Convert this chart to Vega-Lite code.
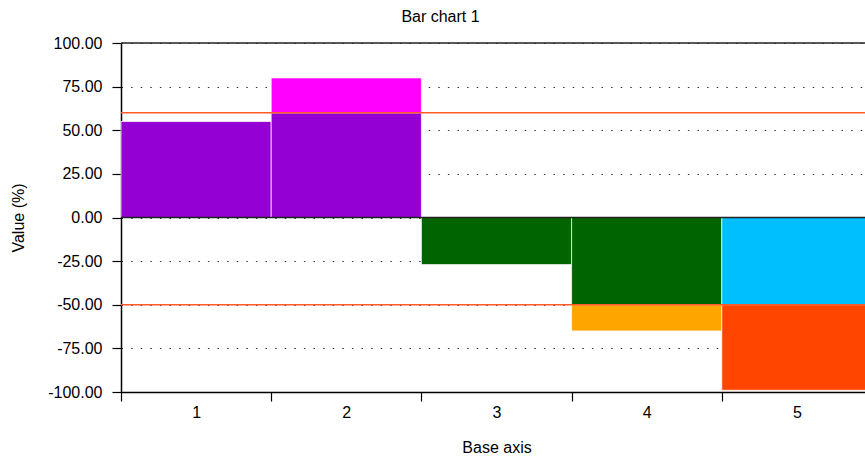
{
  "$schema": "https://vega.github.io/schema/vega-lite/v6.json",
  "autosize": {"type": "none"},
  "width": 751,
  "height": 349,
  "padding": {"left": 121, "top": 43, "right": 0, "bottom": 67},
  "background": "white",
  "config": {
    "view": {"stroke": null},
    "font": "Liberation Sans",
    "axis": {"labelFont": "Liberation Sans", "titleFont": "Liberation Sans", "labelColor": "black", "titleColor": "black", "labelFontSize": 16, "titleFontSize": 16, "titleFontWeight": "normal", "domainColor": "black", "tickColor": "black", "domainWidth": 1.5, "tickWidth": 1.2}
  },
  "title": {"text": "Bar chart 1", "font": "Liberation Sans", "fontSize": 16, "fontWeight": "normal", "color": "black", "anchor": "middle", "dx": -56, "offset": 10},
  "datasets": {
    "bars": [
      {"cat": "1", "seg": "1 base", "y0": 0, "y1": 55},
      {"cat": "2", "seg": "2 base", "y0": 0, "y1": 60},
      {"cat": "2", "seg": "2 over", "y0": 60, "y1": 80},
      {"cat": "3", "seg": "3 base", "y0": 0, "y1": -27},
      {"cat": "4", "seg": "4 base", "y0": 0, "y1": -50},
      {"cat": "4", "seg": "4 over", "y0": -50, "y1": -65},
      {"cat": "5", "seg": "5 base", "y0": 0, "y1": -50},
      {"cat": "5", "seg": "5 over", "y0": -50, "y1": -99}
    ],
    "thresholds": [{"v": 60}, {"v": -50}],
    "frame": [{"v": 0}, {"v": 100}]
  },
  "layer": [
    {
      "data": {"name": "bars"},
      "mark": {"type": "bar", "stroke": "white", "strokeWidth": 1, "strokeOpacity": 0.7},
      "encoding": {
        "x": {"field": "cat", "type": "nominal", "sort": null,
          "scale": {"paddingInner": 0, "paddingOuter": 0},
          "axis": {"title": "Base axis", "labelAngle": 0, "tickBand": "extent", "tickSize": 9, "labelPadding": 3, "titlePadding": 19, "grid": false}},
        "y": {"field": "y1", "type": "quantitative",
          "scale": {"domain": [-100, 100], "nice": false, "zero": false},
          "axis": {"title": "Value (%)", "values": [-100, -75, -50, -25, 0, 25, 50, 75, 100], "labelExpr": "replace(format(datum.value, '.2f'), '\u2212', '-')", "tickSize": 9, "labelPadding": 10, "titlePadding": 21, "grid": true, "gridDash": [1.5, 8.1], "gridColor": "#333", "gridWidth": 1}},
        "y2": {"field": "y0"},
        "color": {"field": "seg", "type": "nominal", "legend": null,
          "scale": {"domain": ["1 base", "2 base", "2 over", "3 base", "4 base", "4 over", "5 base", "5 over"],
                    "range": ["#9400D3", "#9400D3", "#FF00FF", "#006400", "#006400", "#FFA500", "#00BFFF", "#FF4500"]}}
      }
    },
    {
      "data": {"name": "frame"},
      "mark": {"type": "rule", "color": "#222", "strokeWidth": 1.5},
      "encoding": {"y": {"field": "v", "type": "quantitative"}}
    },
    {
      "data": {"name": "thresholds"},
      "mark": {"type": "rule", "color": "#FF5A2A", "strokeWidth": 1.5},
      "encoding": {"y": {"field": "v", "type": "quantitative"}}
    }
  ]
}
